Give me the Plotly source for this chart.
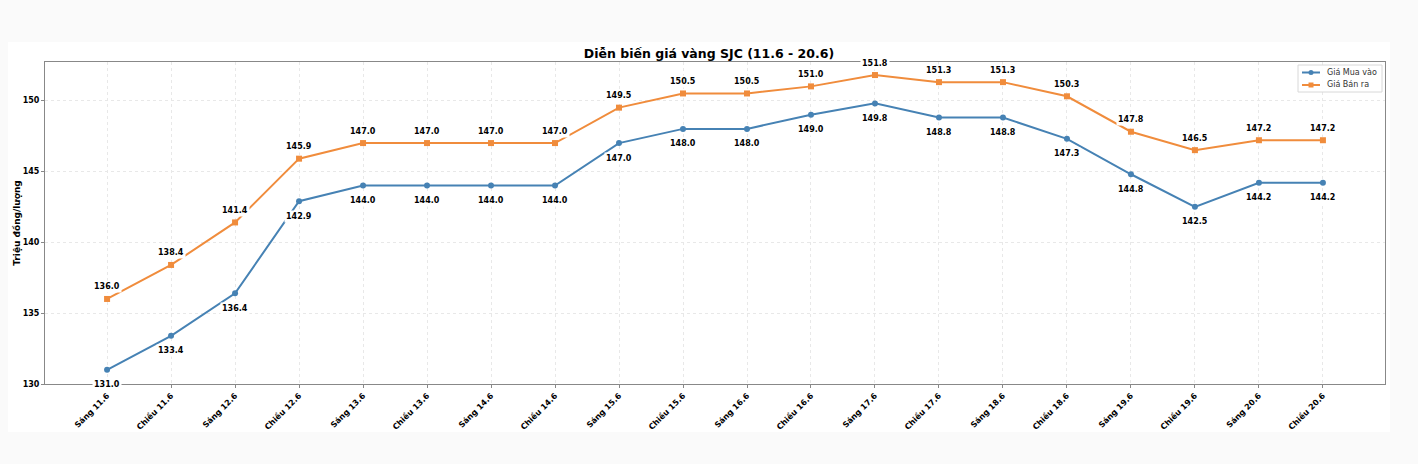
import plotly.graph_objects as go

categories = ["Sáng 11.6", "Chiều 11.6", "Sáng 12.6", "Chiều 12.6", "Sáng 13.6", "Chiều 13.6",
              "Sáng 14.6", "Chiều 14.6", "Sáng 15.6", "Chiều 15.6", "Sáng 16.6", "Chiều 16.6",
              "Sáng 17.6", "Chiều 17.6", "Sáng 18.6", "Chiều 18.6", "Sáng 19.6", "Chiều 19.6",
              "Sáng 20.6", "Chiều 20.6"]
mua_vao = [131.0, 133.4, 136.4, 142.9, 144.0, 144.0, 144.0, 144.0, 147.0, 148.0,
           148.0, 149.0, 149.8, 148.8, 148.8, 147.3, 144.8, 142.5, 144.2, 144.2]
ban_ra = [136.0, 138.4, 141.4, 145.9, 147.0, 147.0, 147.0, 147.0, 149.5, 150.5,
          150.5, 151.0, 151.8, 151.3, 151.3, 150.3, 147.8, 146.5, 147.2, 147.2]
y_ticks = [130, 135, 140, 145, 150]
series_names = ["Giá Mua vào", "Giá Bán ra"]

BLUE = "#4682B4"
ORANGE = "#F08C3C"
FONT = "DejaVu Sans"

xs = list(range(len(categories)))

fig = go.Figure()
fig.add_trace(go.Scatter(x=xs, y=mua_vao, mode="lines+markers", name=series_names[0],
                         line=dict(color=BLUE, width=2),
                         marker=dict(symbol="circle", size=6, color=BLUE), showlegend=False))
fig.add_trace(go.Scatter(x=xs, y=ban_ra, mode="lines+markers", name=series_names[1],
                         line=dict(color=ORANGE, width=2),
                         marker=dict(symbol="square", size=6, color=ORANGE), showlegend=False))

annotations = []
for i, v in enumerate(mua_vao):
    annotations.append(dict(x=i, y=v, xref="x", yref="y", text=f"<b>{v:.1f}</b>",
                            showarrow=False, yshift=-15, bgcolor="white", borderpad=1,
                            font=dict(family=FONT, size=8, color="black")))
for i, v in enumerate(ban_ra):
    annotations.append(dict(x=i, y=v, xref="x", yref="y", text=f"<b>{v:.1f}</b>",
                            showarrow=False, yshift=12, bgcolor="white", borderpad=1,
                            font=dict(family=FONT, size=8, color="black")))

L, R, T, B = 45, 33, 62, 80
W, H = 1418, 464
pw, ph = W - L - R, H - T - B

def px(xp):
    return (xp - L) / pw

def py(yp):
    return (H - B - yp) / ph

shapes = [dict(type="rect", xref="paper", yref="paper",
               x0=px(8), x1=px(1390), y0=py(432), y1=py(42),
               fillcolor="white", line=dict(width=0), layer="below")]

# legend (drawn manually to match compact matplotlib legend)
shapes.append(dict(type="rect", xref="paper", yref="paper",
                   x0=px(1298), x1=px(1382), y0=py(92), y1=py(65),
                   fillcolor="rgba(255,255,255,0.9)", line=dict(color="#D8D8D8", width=1),
                   layer="above"))
for k, (name, col, sym) in enumerate(zip(series_names, [BLUE, ORANGE], ["circle", "rect"])):
    yy = 72.5 + k * 12.5
    shapes.append(dict(type="line", xref="paper", yref="paper",
                       x0=px(1302), x1=px(1320), y0=py(yy), y1=py(yy),
                       line=dict(color=col, width=2), layer="above"))
    shapes.append(dict(type=sym, xref="paper", yref="paper",
                       x0=px(1308.5), x1=px(1313.5), y0=py(yy + 2.5), y1=py(yy - 2.5),
                       fillcolor=col, line=dict(color=col, width=0), layer="above"))
    annotations.append(dict(x=px(1325), y=py(yy), xref="paper", yref="paper", text=name,
                            showarrow=False, xanchor="left", yanchor="middle",
                            font=dict(family=FONT, size=8, color="#333333")))

fig.update_layout(
    width=W, height=H,
    margin=dict(l=L, r=R, t=T, b=B),
    paper_bgcolor="#FAFAFA",
    plot_bgcolor="white",
    title=dict(text="<b>Diễn biến giá vàng SJC (11.6 - 20.6)</b>",
               x=px(715), xanchor="center", y=1 - 54 / H, yanchor="middle",
               font=dict(family=FONT, size=12.5, color="black")),
    font=dict(family=FONT, color="black"),
    showlegend=False,
    annotations=annotations,
    shapes=shapes,
)
fig.update_xaxes(range=[-0.97, 19.97], tickmode="array", tickvals=xs,
                 ticktext=[f"<b>{c}</b>" for c in categories], tickangle=-45,
                 tickfont=dict(family=FONT, size=8, color="black"),
                 showgrid=True, gridcolor="#E8E8E8", griddash="dot", gridwidth=1,
                 showline=True, linecolor="#888888", linewidth=1, mirror=True,
                 ticks="outside", ticklen=3, tickcolor="#888888", zeroline=False)
fig.update_yaxes(range=[130, 152.72], tickmode="array", tickvals=y_ticks,
                 ticktext=[f"<b>{t}</b>" for t in y_ticks],
                 tickfont=dict(family=FONT, size=8, color="black"),
                 title=dict(text="<b>Triệu đồng/lượng</b>", standoff=0,
                            font=dict(family=FONT, size=9, color="black")),
                 showgrid=True, gridcolor="#E8E8E8", griddash="dot", gridwidth=1,
                 showline=True, linecolor="#888888", linewidth=1, mirror=True,
                 ticks="outside", ticklen=3, tickcolor="#888888", zeroline=False)

fig.write_html("out.html")
